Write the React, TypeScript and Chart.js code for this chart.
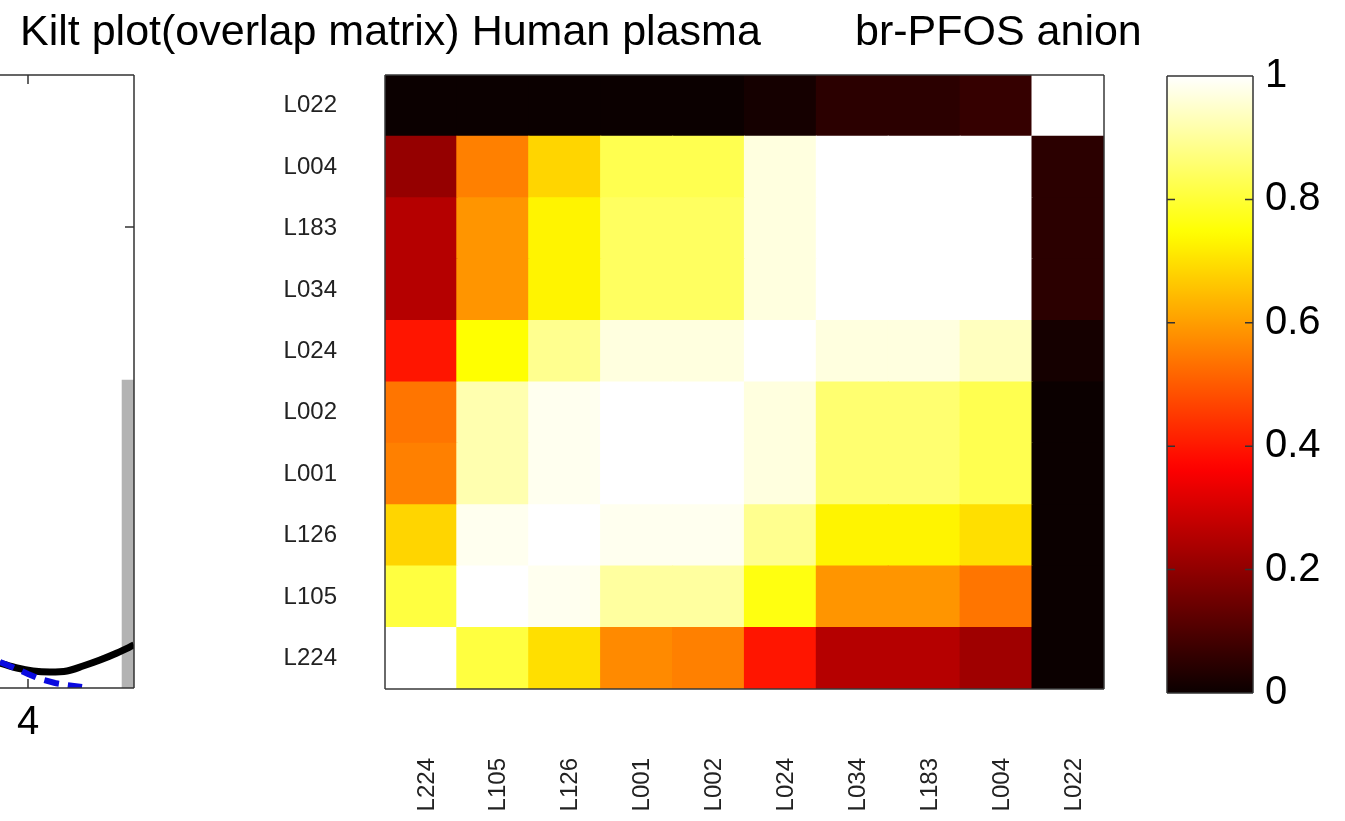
import React, { useEffect, useRef } from "react";
import { Chart, registerables } from "chart.js";

Chart.register(...registerables);

// ---------- DATA ----------
const titleMain = "Kilt plot(overlap matrix) Human plasma";
const titleSub = "br-PFOS anion";

// Samples: columns left→right, rows bottom→top
const sampleLabels = ["L224", "L105", "L126", "L001", "L002", "L024", "L034", "L183", "L004", "L022"];

// overlap values per row (columns in sampleLabels order)
const rowL224 = [1.0, 0.81, 0.697, 0.571, 0.548, 0.403, 0.248, 0.248, 0.218, 0.0];
const rowL105 = [0.81, 1.0, 0.985, 0.905, 0.905, 0.762, 0.587, 0.587, 0.545, 0.0];
const rowL126 = [0.68, 0.985, 1.0, 0.985, 0.985, 0.889, 0.73, 0.73, 0.697, 0.0];
const rowL001 = [0.556, 0.92, 0.985, 1.0, 1.0, 0.968, 0.85, 0.85, 0.825, 0.0];
const rowL002 = [0.545, 0.92, 0.985, 1.0, 1.0, 0.968, 0.85, 0.85, 0.825, 0.0];
const rowL024 = [0.403, 0.746, 0.889, 0.968, 0.968, 1.0, 0.962, 0.962, 0.944, 0.01];
const rowL034 = [0.248, 0.587, 0.724, 0.84, 0.84, 0.968, 1.0, 1.0, 1.0, 0.04];
const rowL183 = [0.248, 0.587, 0.724, 0.84, 0.84, 0.968, 1.0, 1.0, 1.0, 0.04];
const rowL004 = [0.213, 0.556, 0.686, 0.825, 0.825, 0.962, 1.0, 1.0, 1.0, 0.047];
const rowL022 = [0.0, 0.0, 0.0, 0.0, 0.0, 0.02, 0.047, 0.047, 0.06, 1.0];

const overlapRows = [rowL224, rowL105, rowL126, rowL001, rowL002, rowL024, rowL034, rowL183, rowL004, rowL022];

const colorbarTicks = [0, 0.2, 0.4, 0.6, 0.8, 1];

// Left (cropped) neighbouring plot
const leftXTicks = [4];
const leftYTicks = [1];
const blackCurveX = [3.8133, 3.9267, 4.0333, 4.1467, 4.26, 4.3667, 4.48, 4.5933, 4.7067];
const blackCurveY = [0.0542, 0.0434, 0.0369, 0.0347, 0.0369, 0.0477, 0.0607, 0.0759, 0.0933];
const blueCurveX = [3.8133, 3.9267, 4.0, 4.08, 4.18, 4.26, 4.36];
const blueCurveY = [0.0564, 0.0412, 0.0304, 0.0195, 0.0108, 0.0065, 0.0022];
const greyBarX = [4.667];
const greyBarY = [0.668];

// ---------- HELPERS ----------
const FONT = "'Liberation Sans', Arial, Helvetica, sans-serif";

function clamp01(v: number) {
  return Math.max(0, Math.min(1, v));
}

function hotRGB(i: number) {
  const r = clamp01(i / 24);
  const g = clamp01((i - 24) / 24);
  const b = clamp01((i - 48) / 16);
  return `rgb(${Math.round(r * 255)},${Math.round(g * 255)},${Math.round(b * 255)})`;
}

// MATLAB hot(64), quantised
function hot(v: number) {
  const i = Math.round(clamp01(v) * 63) + 1;
  return hotRGB(i);
}

const framePlugin = {
  id: "frame",
  afterDatasetsDraw(chart: any, _args: any, opts: any) {
    if (!opts || !opts.enabled) return;
    const { ctx, chartArea: a } = chart;
    ctx.save();
    ctx.strokeStyle = opts.color || "#333";
    ctx.lineWidth = opts.width || 1;
    const sides = opts.sides || ["top", "right", "bottom", "left"];
    ctx.beginPath();
    if (sides.includes("top")) { ctx.moveTo(a.left, a.top); ctx.lineTo(a.right, a.top); }
    if (sides.includes("right")) { ctx.moveTo(a.right, a.top); ctx.lineTo(a.right, a.bottom); }
    if (sides.includes("bottom")) { ctx.moveTo(a.left, a.bottom); ctx.lineTo(a.right, a.bottom); }
    if (sides.includes("left")) { ctx.moveTo(a.left, a.top); ctx.lineTo(a.left, a.bottom); }
    ctx.stroke();
    const len = opts.tickLen || 8;
    ctx.beginPath();
    (opts.xTicks || []).forEach((v: number) => {
      const x = chart.scales.x.getPixelForValue(v);
      ctx.moveTo(x, a.top); ctx.lineTo(x, a.top + len);
      ctx.moveTo(x, a.bottom); ctx.lineTo(x, a.bottom - len);
    });
    (opts.yTicks || []).forEach((v: number) => {
      const y = chart.scales.y.getPixelForValue(v);
      if (opts.yLeft !== false) { ctx.moveTo(a.left, y); ctx.lineTo(a.left + len, y); }
      ctx.moveTo(a.right, y); ctx.lineTo(a.right - len, y);
    });
    ctx.stroke();
    ctx.restore();
  },
};

// invisible tick marks used only as label offsets
const hiddenTickGrid = (len: number) => ({
  display: true,
  drawOnChartArea: false,
  drawTicks: true,
  tickLength: len,
  tickColor: "rgba(0,0,0,0)",
  color: "rgba(0,0,0,0)",
});

// ---------- COMPONENTS ----------
function HeatmapChart() {
  const ref = useRef<HTMLCanvasElement>(null);
  useEffect(() => {
    const chart = new Chart(ref.current as HTMLCanvasElement, {
      type: "bar",
      data: {
        labels: sampleLabels,
        datasets: overlapRows.map((row, r) => ({
          label: sampleLabels[r],
          data: row.map(() => [r - 0.5, r + 0.5]),
          backgroundColor: row.map(hot),
          borderWidth: 0,
          barPercentage: 1,
          categoryPercentage: 1,
          grouped: false,
          inflateAmount: 0.6,
        })),
      } as any,
      options: {
        animation: false,
        responsive: false,
        devicePixelRatio: 1,
        layout: { padding: { top: 75, right: 46, left: 0, bottom: 0 } },
        plugins: {
          legend: { display: false },
          tooltip: { enabled: false },
          frame: { enabled: true, color: "#3a3a3a", width: 1.5 },
        } as any,
        scales: {
          x: {
            type: "category",
            grid: hiddenTickGrid(69),
            border: { display: false },
            ticks: {
              autoSkip: false,
              minRotation: 90,
              maxRotation: 90,
              padding: 0,
              labelOffset: 6,
              color: "#222",
              font: { family: FONT, size: 24 },
            },
            afterFit: (s: any) => { s.height = 132; },
          },
          y: {
            type: "linear",
            min: -0.5,
            max: 9.5,
            grid: hiddenTickGrid(48),
            border: { display: false },
            afterBuildTicks: (s: any) => { s.ticks = sampleLabels.map((_, i) => ({ value: i })); },
            ticks: {
              padding: 0,
              color: "#222",
              font: { family: FONT, size: 24 },
              callback: (v: any) => sampleLabels[Math.round(Number(v))],
            },
            afterFit: (s: any) => { s.width = 235; },
          },
        },
      } as any,
      plugins: [framePlugin],
    });
    return () => chart.destroy();
  }, []);
  return (
    <canvas
      ref={ref}
      width={1000}
      height={821}
      style={{ position: "absolute", left: 150, top: 0, width: 1000, height: 821 }}
    />
  );
}

function ColorbarChart() {
  const ref = useRef<HTMLCanvasElement>(null);
  useEffect(() => {
    const chart = new Chart(ref.current as HTMLCanvasElement, {
      type: "bar",
      data: {
        labels: ["overlap"],
        datasets: [
          {
            data: [[0, 1]],
            borderWidth: 0,
            barPercentage: 1,
            categoryPercentage: 1,
            backgroundColor: (c: any) => {
              const ch = c.chart;
              const a = ch.chartArea;
              if (!a) return "black";
              const g = ch.ctx.createLinearGradient(0, a.bottom, 0, a.top);
              for (let k = 0; k <= 64; k++) {
                g.addColorStop(k / 64, hotRGB((k / 64) * 63 + 1));
              }
              return g;
            },
          },
        ],
      } as any,
      options: {
        animation: false,
        responsive: false,
        devicePixelRatio: 1,
        layout: { padding: { top: 76, right: 0, left: 17, bottom: 128 } },
        plugins: {
          legend: { display: false },
          tooltip: { enabled: false },
          frame: {
            enabled: true,
            color: "#333",
            width: 1.5,
            tickLen: 8,
            yTicks: colorbarTicks.slice(1, -1),
          },
        } as any,
        scales: {
          x: { display: false },
          y: {
            position: "right",
            type: "linear",
            min: 0,
            max: 1,
            grid: { display: false, drawTicks: false },
            border: { display: false },
            afterBuildTicks: (s: any) => { s.ticks = colorbarTicks.map((v) => ({ value: v })); },
            ticks: {
              padding: 12,
              color: "#000",
              font: { family: FONT, size: 40 },
              callback: (v: any) => String(Math.round(Number(v) * 10) / 10),
            },
            afterFit: (s: any) => { s.width = 92; },
          },
        },
      } as any,
      plugins: [framePlugin],
    });
    return () => chart.destroy();
  }, []);
  return (
    <canvas
      ref={ref}
      width={195}
      height={821}
      style={{ position: "absolute", left: 1150, top: 0, width: 195, height: 821 }}
    />
  );
}

function LeftFragmentChart() {
  const ref = useRef<HTMLCanvasElement>(null);
  useEffect(() => {
    const chart = new Chart(ref.current as HTMLCanvasElement, {
      type: "line",
      data: {
        datasets: [
          {
            type: "line",
            data: blueCurveX.map((x, i) => ({ x, y: blueCurveY[i] })),
            borderColor: "#0a0ae0",
            borderWidth: 6,
            borderDash: [15, 9],
            borderCapStyle: "butt",
            pointRadius: 0,
            fill: false,
            order: 1,
          },
          {
            type: "line",
            data: blackCurveX.map((x, i) => ({ x, y: blackCurveY[i] })),
            borderColor: "#000",
            borderWidth: 7,
            pointRadius: 0,
            fill: false,
            tension: 0.3,
            order: 2,
          },
          {
            type: "bar",
            data: greyBarX.map((x, i) => ({ x, y: greyBarY[i] })),
            backgroundColor: "#b3b3b3",
            borderWidth: 0,
            barThickness: 12,
            order: 3,
          },
        ],
      } as any,
      options: {
        animation: false,
        responsive: false,
        devicePixelRatio: 1,
        layout: { padding: { top: 75, right: 16, left: 0, bottom: 0 } },
        plugins: {
          legend: { display: false },
          tooltip: { enabled: false },
          frame: {
            enabled: true,
            color: "#333",
            width: 1.5,
            tickLen: 9,
            sides: ["top", "right", "bottom"],
            xTicks: leftXTicks,
            yTicks: leftYTicks,
            yLeft: false,
          },
        } as any,
        scales: {
          x: {
            type: "linear",
            offset: false,
            min: 3.8133,
            max: 4.7067,
            grid: { display: false, drawTicks: false },
            border: { display: false },
            afterBuildTicks: (s: any) => { s.ticks = leftXTicks.map((v) => ({ value: v })); },
            ticks: {
              padding: 11,
              color: "#000",
              font: { family: FONT, size: 40 },
              callback: (v: any) => String(v),
            },
            afterFit: (s: any) => { s.height = 133; },
          },
          y: {
            type: "linear",
            min: 0,
            max: 1.3297,
            display: false,
          },
        },
      } as any,
      plugins: [framePlugin],
    });
    return () => chart.destroy();
  }, []);
  return (
    <canvas
      ref={ref}
      width={150}
      height={821}
      style={{ position: "absolute", left: 0, top: 0, width: 150, height: 821 }}
    />
  );
}

export default function App() {
  const titleStyle: React.CSSProperties = {
    position: "absolute",
    top: 9,
    fontFamily: FONT,
    fontSize: 43,
    lineHeight: "43px",
    color: "#000",
    whiteSpace: "pre",
    margin: 0,
  };
  return (
    <div
      style={{
        position: "absolute",
        left: 0,
        top: 0,
        width: 1345,
        height: 821,
        overflow: "hidden",
        background: "#fff",
      }}
    >
      <LeftFragmentChart />
      <HeatmapChart />
      <ColorbarChart />
      <div style={{ ...titleStyle, left: 20 }}>{titleMain}</div>
      <div style={{ ...titleStyle, left: 855 }}>{titleSub}</div>
    </div>
  );
}
